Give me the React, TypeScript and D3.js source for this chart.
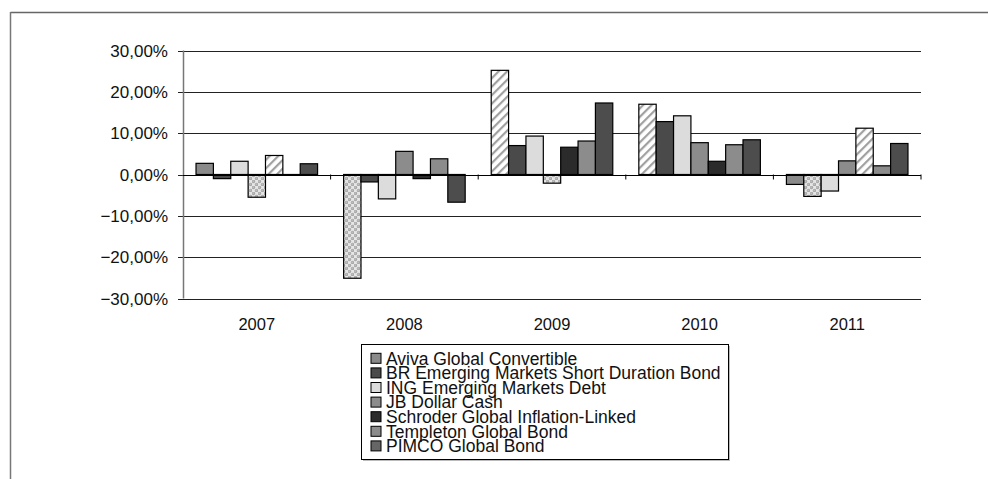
import React from "react";
import * as d3 from "d3";

const years = ["2007", "2008", "2009", "2010", "2011"];
const seriesNames = [
  "Aviva Global Convertible",
  "BR Emerging Markets Short Duration Bond",
  "ING Emerging Markets Debt",
  "JB Dollar Cash",
  "Schroder Global Inflation-Linked",
  "Templeton Global Bond",
  "PIMCO Global Bond",
];
const aviva = [2.7, -25.1, 25.2, 17.0, -2.4];
const br = [-1.0, -1.8, 7.0, 12.8, -5.3];
const ing = [3.2, -5.9, 9.3, 14.2, -4.0];
const jb = [-5.5, 5.6, -2.1, 7.7, 3.3];
const schroder = [4.6, -1.0, 6.6, 3.2, 11.2];
const templeton = [-0.2, 3.8, 8.1, 7.2, 2.1];
const pimco = [2.6, -6.7, 17.3, 8.4, 7.5];
const seriesValues = [aviva, br, ing, jb, schroder, templeton, pimco];
const yTicks = [-30, -20, -10, 0, 10, 20, 30];
// per point fill pattern: "" solid, "h" hatched, "c" checkered (row = series, col = year)
const pointPatterns = [
  ["", "c", "h", "h", ""],
  ["", "", "", "", "c"],
  ["", "", "", "", ""],
  ["c", "", "c", "", ""],
  ["h", "", "", "", "h"],
  ["", "", "", "", ""],
  ["", "", "", "", ""],
];

const colors = ["#8a8a8a", "#4a4a4a", "#dcdcdc", "#8c8c8c", "#2b2b2b", "#8c8c8c", "#4d4d4d"];
const legendColors = ["#8a8a8a", "#4a4a4a", "#dcdcdc", "#8c8c8c", "#2b2b2b", "#8c8c8c", "#666666"];

export default function App() {
  const W = 988, H = 479;
  const x0 = 183, x1 = 921;
  const y = d3.scaleLinear().domain([-30, 30]).range([298.5, 50.5]);
  const xg = d3.scaleBand<string>().domain(years).range([x0, x1]).padding(0);
  const xs = d3
    .scaleBand<number>()
    .domain(d3.range(seriesNames.length))
    .range([0, xg.bandwidth()])
    .paddingInner(0)
    .paddingOuter(0.75);
  const font = "'Liberation Sans', Arial, sans-serif";
  const fmt = (v: number) => d3.format(".2f")(v).replace(".", ",") + "%";

  const bars: any[] = [];
  seriesValues.forEach((vals, si) => {
    vals.forEach((v, yi) => {
      const bx = (xg(years[yi]) as number) + (xs(si) as number);
      const top = y(Math.max(0, v));
      const bot = y(Math.min(0, v));
      const p = pointPatterns[si][yi];
      const fill = p === "h" ? "url(#hatch)" : p === "c" ? "url(#checker)" : colors[si];
      bars.push(
        <rect
          key={`${si}-${yi}`}
          x={bx}
          y={top}
          width={xs.bandwidth()}
          height={Math.max(0.5, bot - top)}
          fill={fill}
          stroke="#000"
          strokeWidth={1.2}
        />
      );
    });
  });

  const lgX = 361.5, lgY = 344.5, lgW = 367, lgH = 115;
  const rowH = 14.6;

  return (
    <svg
      width={W}
      height={H}
      style={{ position: "absolute", left: 0, top: 0, background: "#fff" }}
      fontFamily={font}
    >
      <defs>
        <pattern id="hatch" width="6" height="6" patternUnits="userSpaceOnUse" patternTransform="rotate(45)">
          <rect width="6" height="6" fill="#fff" />
          <rect width="2.2" height="6" fill="#a0a0a0" />
        </pattern>
        <pattern id="checker" width="6" height="6" patternUnits="userSpaceOnUse">
          <rect width="6" height="6" fill="#e6e6e6" />
          <circle cx="1.5" cy="1.5" r="1.7" fill="#a8a8a8" />
          <circle cx="4.5" cy="4.5" r="1.7" fill="#a8a8a8" />
          <circle cx="1.2" cy="1.2" r="0.6" fill="#d0d0d0" />
          <circle cx="4.2" cy="4.2" r="0.6" fill="#d0d0d0" />
        </pattern>
      </defs>
      <rect width={W} height={H} fill="#fff" />
      {/* outer frame */}
      <line x1={10.5} y1={12.5} x2={W} y2={12.5} stroke="#666" strokeWidth={1.5} />
      <line x1={10.5} y1={12} x2={10.5} y2={H} stroke="#777" strokeWidth={1.5} />

      {/* gridlines */}
      {yTicks.map((t) => (
        <g key={t}>
          <line x1={x0} x2={x1} y1={Math.round(y(t)) + 0.5} y2={Math.round(y(t)) + 0.5} stroke="#222" strokeWidth={1} />
          <line x1={178} x2={x0} y1={Math.round(y(t)) + 0.5} y2={Math.round(y(t)) + 0.5} stroke="#222" strokeWidth={1} />
          <text x={168} y={y(t)} dy="0.36em" textAnchor="end" fontSize={17} fill="#111">
            {fmt(t)}
          </text>
        </g>
      ))}
      {/* y axis */}
      <line x1={x0 + 0.5} x2={x0 + 0.5} y1={y(30)} y2={y(-30)} stroke="#777" strokeWidth={1.5} />

      {bars}

      {/* zero line and category ticks */}
      <line x1={x0} x2={x1} y1={Math.round(y(0)) + 0.5} y2={Math.round(y(0)) + 0.5} stroke="#000" strokeWidth={1.2} />
      {years.map((yr) => (
        <line
          key={"t" + yr}
          x1={(xg(yr) as number) + xg.bandwidth()}
          x2={(xg(yr) as number) + xg.bandwidth()}
          y1={y(0)}
          y2={y(0) + 5}
          stroke="#000"
          strokeWidth={1}
        />
      ))}
      {years.map((yr) => (
        <text
          key={"l" + yr}
          x={(xg(yr) as number) + xg.bandwidth() / 2}
          y={324}
          dy="0.36em"
          textAnchor="middle"
          fontSize={16.5}
          fill="#111"
        >
          {yr}
        </text>
      ))}

      {/* legend */}
      <rect x={lgX + 1.5} y={lgY + 1.5} width={lgW} height={lgH} fill="#bbb" />
      <rect x={lgX} y={lgY} width={lgW} height={lgH} fill="#fff" stroke="#000" strokeWidth={1} />
      {seriesNames.map((n, i) => {
        const cy = 358.3 + i * rowH;
        return (
          <g key={n}>
            <rect x={371} y={cy - 5} width={10} height={10} fill={legendColors[i]} stroke="#000" strokeWidth={1} />
            <text x={386} y={cy} dy="0.36em" fontSize={17.5} fill="#111">
              {n}
            </text>
          </g>
        );
      })}
    </svg>
  );
}
